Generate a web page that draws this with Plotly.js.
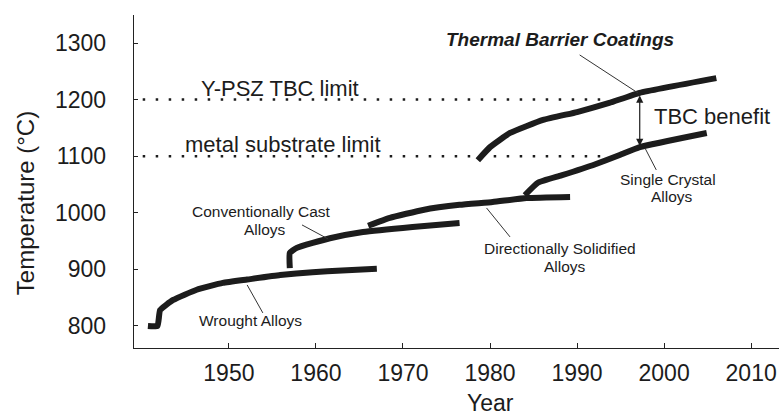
<!DOCTYPE html>
<html>
<head>
<meta charset="utf-8">
<script src="https://cdn.plot.ly/plotly-3.0.1.min.js"></script>
<style>html,body{margin:0;padding:0;background:#fff;}#chart{width:779px;height:419px;}</style>
</head>
<body>
<div id="chart"></div>
<script>
// ---- data ----
const wroughtYear = [1940.7, 1941.8, 1942.1, 1943.6, 1946.3, 1949.3, 1952.1, 1955.9, 1959.6, 1963.0, 1967.0];
const wroughtTemp = [800, 800, 828, 846, 864, 876, 882, 890, 895, 898, 901];

const castYear = [1957.0, 1957.0, 1957.8, 1961.6, 1965.4, 1971.1, 1976.5];
const castTemp = [902, 929, 938, 955, 966, 975, 982];

const dsYear = [1966.0, 1968.5, 1972.3, 1976.5, 1980.3, 1984.2, 1989.2];
const dsTemp = [977, 991, 1005, 1014, 1019, 1026, 1028];

const scYear = [1984.0, 1985.5, 1988.2, 1991.8, 1994.9, 1997.2, 2004.9];
const scTemp = [1031, 1053, 1066, 1084, 1102, 1116, 1141];

const tbcYear = [1978.6, 1980.0, 1982.3, 1986.1, 1990.0, 1993.7, 1997.2, 2006.0];
const tbcTemp = [1093, 1116, 1141, 1164, 1178, 1194, 1212, 1238];

const limitYear = [1940.1, 1993.0];
const yszLimit = [1200, 1200];
const metalLimit = [1100, 1100];

const xTicks = [1950, 1960, 1970, 1980, 1990, 2000, 2010];
const yTicks = [800, 900, 1000, 1100, 1200, 1300];

// ---- styles ----
const ink = '#1c1c1c';
const font = 'Liberation Sans, Arial, Helvetica, sans-serif';
const thick = {color: ink, width: 6, shape: 'spline', smoothing: 0.4};
const dotted = {color: ink, width: 2.5, dash: '2.5px,10.5px'};

function curve(x, y) {
  return {x: x, y: y, type: 'scatter', mode: 'lines', line: thick, hoverinfo: 'skip', showlegend: false};
}
function limitLine(y) {
  return {x: limitYear, y: y, type: 'scatter', mode: 'lines', line: dotted, hoverinfo: 'skip', showlegend: false};
}

const traces = [
  limitLine(yszLimit),
  limitLine(metalLimit),
  curve(wroughtYear, wroughtTemp),
  curve(castYear, castTemp),
  curve(dsYear, dsTemp),
  curve(scYear, scTemp),
  curve(tbcYear, tbcTemp)
];

function label(text, x, y, size, extra) {
  return Object.assign({text: text, x: x, y: y, xref: 'x', yref: 'y', showarrow: false,
    font: {family: font, size: size, color: ink}, xanchor: 'center', yanchor: 'middle'}, extra || {});
}
function leader(x0, y0, x1, y1) {
  return {type: 'line', xref: 'x', yref: 'y', x0: x0, y0: y0, x1: x1, y1: y1,
    line: {color: '#333', width: 1}};
}

const small = 15.5;
const annotations = [
  label('Y-PSZ TBC limit', 1955.9, 1218.8, 22),
  label('metal substrate limit', 1956.2, 1119.8, 22),
  label('TBC benefit', 1998.6, 1169.3, 22, {xanchor: 'left'}),
  label('<b><i>Thermal Barrier Coatings</i></b>', 1988.0, 1305.4, 19),
  label('Conventionally Cast', 1953.7, 1001.4, small),
  label('Alloys', 1954.1, 969.6, small),
  label('Wrought Alloys', 1952.5, 808.8, small),
  label('Directionally Solidified', 1988.0, 936.0, small),
  label('Alloys', 1988.6, 904.3, small),
  label('Single Crystal', 2000.4, 1058.0, small),
  label('Alloys', 2000.9, 1028.0, small),
  {text: '', x: 1997.2, y: 1118, ax: 1997.2, ay: 1210, xref: 'x', yref: 'y', axref: 'x', ayref: 'y',
   showarrow: true, arrowside: 'end+start', arrowhead: 2, arrowsize: 1.2, arrowwidth: 1.2, arrowcolor: ink},
  {text: 'Year', xref: 'paper', yref: 'paper', x: 0.552, y: -0.165, showarrow: false,
   font: {family: font, size: 23, color: ink}, xanchor: 'center', yanchor: 'middle'},
  {text: 'Temperature (°C)', xref: 'paper', yref: 'paper', x: -0.169, y: 0.435, showarrow: false,
   textangle: -90, font: {family: font, size: 24, color: ink}, xanchor: 'center', yanchor: 'middle'}
];

const shapes = [
  leader(1958.4, 978.5, 1961.4, 953.7),
  leader(1952.1, 872.4, 1953.9, 823.0),
  leader(1979.6, 1008.5, 1982.3, 957.3),
  leader(1997.8, 1114.5, 1999.1, 1075.7),
  leader(1990.3, 1278.9, 1997.0, 1211.7)
];

const layout = {
  width: 779, height: 419,
  margin: {l: 134, r: 0, t: 15, b: 71, pad: 0},
  paper_bgcolor: '#fff', plot_bgcolor: '#fff',
  font: {family: font, color: ink},
  showlegend: false,
  xaxis: {
    range: [1939.1, 2013.2], tickvals: xTicks, ticktext: xTicks.map(String),
    showgrid: false, zeroline: false, showline: true, linecolor: '#222', linewidth: 1.3,
    ticks: 'inside', ticklen: 5, tickwidth: 1, tickcolor: '#222',
    tickfont: {family: font, size: 23, color: ink}, ticklabelstandoff: 4
  },
  yaxis: {
    range: [761, 1349.5], tickvals: yTicks, ticktext: yTicks.map(String),
    showgrid: false, zeroline: false, showline: true, linecolor: '#222', linewidth: 1.3,
    ticks: 'inside', ticklen: 4, tickwidth: 1, tickcolor: '#222',
    tickfont: {family: font, size: 23, color: ink}, ticklabelstandoff: 22
  },
  annotations: annotations,
  shapes: shapes
};

Plotly.newPlot('chart', traces, layout, {staticPlot: true, displayModeBar: false});
</script>
</body>
</html>
